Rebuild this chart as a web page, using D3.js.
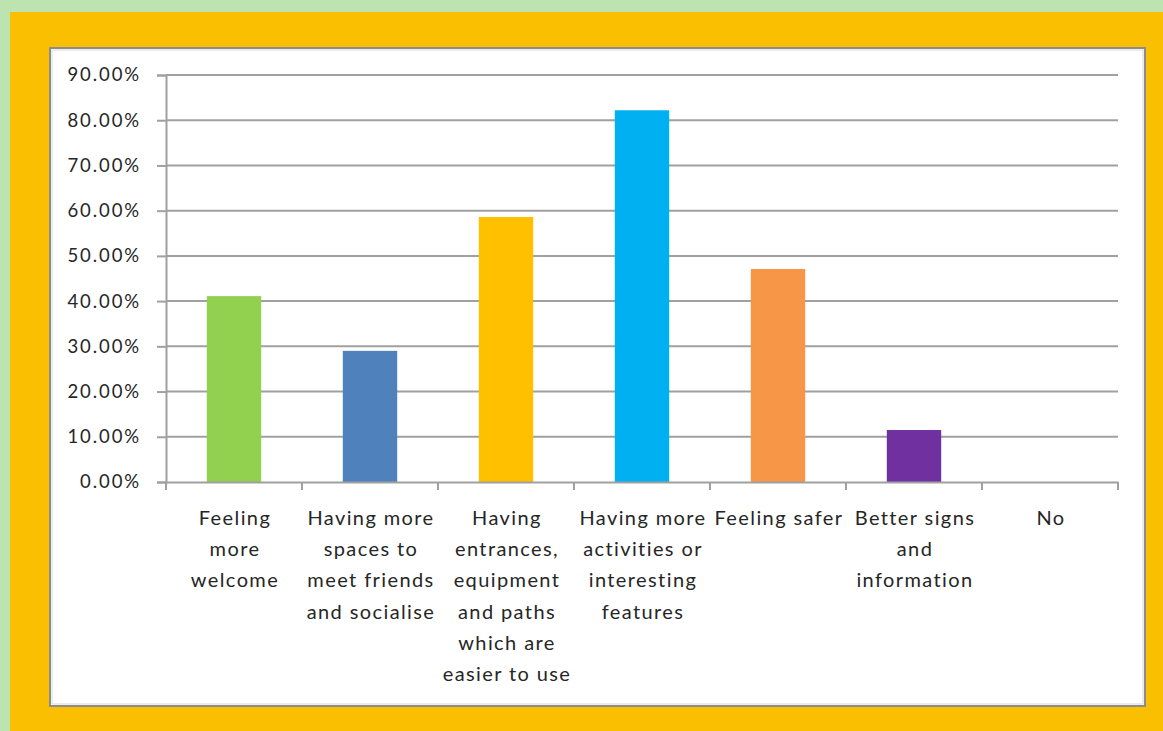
<!DOCTYPE html>
<html>
<head>
<meta charset="utf-8">
<script src="https://cdn.jsdelivr.net/npm/d3@7"></script>
<style>
html,body{margin:0;padding:0;background:#bde3b1;}
svg{display:block;}
</style>
</head>
<body>
<svg id="chart" width="1163" height="731"></svg>
<script>
const categories = [
  ["Feeling","more","welcome"],
  ["Having more","spaces to","meet friends","and socialise"],
  ["Having","entrances,","equipment","and paths","which are","easier to use"],
  ["Having more","activities or","interesting","features"],
  ["Feeling safer"],
  ["Better signs","and","information"],
  ["No"]
];
const values = [0.411, 0.290, 0.586, 0.822, 0.471, 0.115, 0];
const colors = ["#92d050","#4f81bd","#ffc000","#00b0f0","#f79646","#7030a0","#c0504d"];
const yTicks = [0,0.1,0.2,0.3,0.4,0.5,0.6,0.7,0.8,0.9];

const svg = d3.select("#chart");
const W = 1163, H = 731;
svg.append("rect").attr("x",0).attr("y",0).attr("width",W).attr("height",H).attr("fill","#bde3b1");
svg.append("rect").attr("x",10).attr("y",12).attr("width",W-10).attr("height",H-12).attr("fill","#f9bf00");
// panel
svg.append("rect").attr("x",50).attr("y",48).attr("width",1095).attr("height",658)
  .attr("fill","#ffffff").attr("stroke","#8c8c8c").attr("stroke-width",2);
svg.append("rect").attr("x",52).attr("y",50).attr("width",1091).attr("height",654)
  .attr("fill","none").attr("stroke","#d9d9d9").attr("stroke-width",1);

const x0 = 166, x1 = 1118, yTop = 75, yBot = 482;
const x = d3.scaleBand().domain(d3.range(categories.length)).range([x0,x1]).paddingInner(0.6).paddingOuter(0.3);
const xb = d3.scaleBand().domain(d3.range(categories.length)).range([x0,x1]).padding(0);
const y = d3.scaleLinear().domain([0,0.9]).range([yBot,yTop]);

const font = "Lato, 'Open Sans', sans-serif";

const yAxis = d3.axisLeft(y).tickValues(yTicks).tickFormat(d3.format(".2%")).tickSize(9).tickPadding(16);
const gy = svg.append("g").attr("transform",`translate(${x0},0)`).call(yAxis);
gy.select(".domain").attr("stroke","#a0a0a0").attr("stroke-width",2);
gy.selectAll(".tick line").attr("stroke","#a0a0a0").attr("stroke-width",2);
gy.selectAll(".tick text").attr("font-family",font).attr("font-size",18.5)
  .attr("letter-spacing","1.9px").attr("fill","#262626");

svg.append("g").selectAll("line").data(yTicks.filter(d=>d>0)).join("line")
  .attr("x1",x0).attr("x2",x1).attr("y1",d=>y(d)).attr("y2",d=>y(d))
  .attr("stroke","#a0a0a0").attr("stroke-width",2);

svg.append("g").selectAll("rect").data(values).join("rect")
  .attr("x",(d,i)=>x(i)).attr("width",x.bandwidth())
  .attr("y",d=>y(d)).attr("height",d=>yBot-y(d))
  .attr("fill",(d,i)=>colors[i]);

const xAxis = d3.axisBottom(xb).tickSize(0).tickFormat("");
const gx = svg.append("g").attr("transform",`translate(0,${yBot})`).call(xAxis);
gx.select(".domain").attr("stroke","#a0a0a0").attr("stroke-width",2);
const bounds = d3.range(categories.length+1).map(i=>x0 + i*xb.step());
svg.append("g").selectAll("line").data(bounds).join("line")
  .attr("x1",d=>d).attr("x2",d=>d).attr("y1",yBot).attr("y2",yBot+8)
  .attr("stroke","#a0a0a0").attr("stroke-width",2);

const lg = svg.append("g");
categories.forEach((lines,i)=>{
  const cx = xb(i) + xb.bandwidth()/2 + 1;
  const t = lg.append("text").attr("text-anchor","middle").attr("font-family",font)
    .attr("font-size",20).attr("letter-spacing","1.4px").attr("fill","#262626");
  lines.forEach((l,j)=>{
    t.append("tspan").attr("x",cx).attr("y",525 + j*31.2).text(l);
  });
});
</script>
</body>
</html>
